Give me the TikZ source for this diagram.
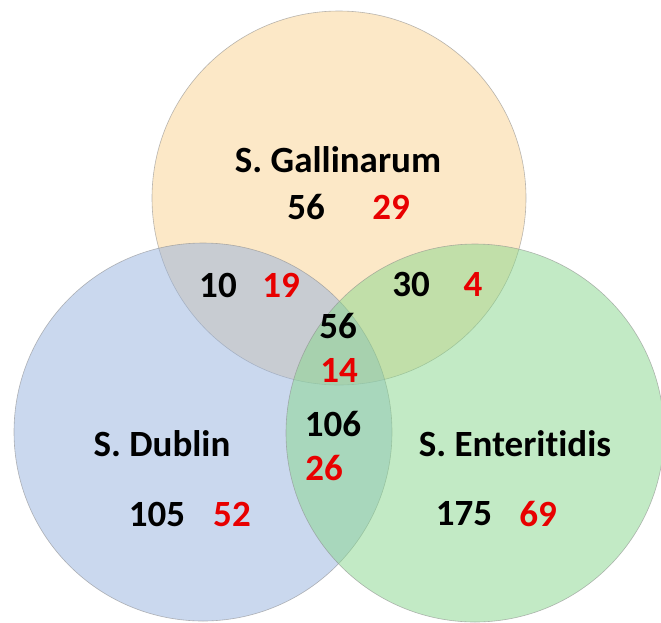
\documentclass[tikz,border=0pt]{standalone}
\usepackage{fontspec}
\setmainfont{Carlito}[Ligatures=NoCommon]
\begin{document}
\begin{tikzpicture}[x=1pt,y=-1pt,
  setcircle/.style={draw=black!45, line width=0.6pt, fill opacity=0.5, draw opacity=0.6},
  lbl/.style={font=\fontsize{37}{42}\selectfont\bfseries, text=black, inner sep=0pt, anchor=center},
  num/.style={lbl},
  hi/.style={lbl, text=numred}]
\definecolor{gallcol}{RGB}{251,211,145}
\definecolor{dubcol}{RGB}{150,178,222}
\definecolor{entcol}{RGB}{135,215,140}
\definecolor{numred}{RGB}{232,0,0}
\useasboundingbox (0,0) rectangle (661,622);
\fill[white] (0,0) rectangle (661,622);
% the three sets
\path[setcircle, fill=gallcol] (339,198) circle (187);
\path[setcircle, fill=dubcol]  (203,432) circle (189);
\path[setcircle, fill=entcol]  (475,433) circle (189);
% set names
\node[lbl] (gname) at (338,160) {S. Gallinarum};
\node[lbl] (dname) at (162,444) {S. Dublin};
\node[lbl] (ename) at (515,444) {S. Enteritidis};
% counts
\node[num] (g1) at (306,207) {56};  \node[hi] (g2) at (391,207) {29};
\node[num] (gd1) at (218,285) {10}; \node[hi] (gd2) at (281,285) {19};
\node[num] (ge1) at (411,284) {30}; \node[hi] (ge2) at (473,284) {4};
\node[num] (c1) at (338,326) {56};  \node[hi] (c2) at (339,370) {14};
\node[num] (de1) at (333,424) {106}; \node[hi] (de2) at (324,468) {26};
\node[num] (d1) at (157,514) {105}; \node[hi] (d2) at (232,514) {52};
\node[num] (e1) at (464,514) {175}; \node[hi] (e2) at (538,514) {69};
\end{tikzpicture}
\end{document}
